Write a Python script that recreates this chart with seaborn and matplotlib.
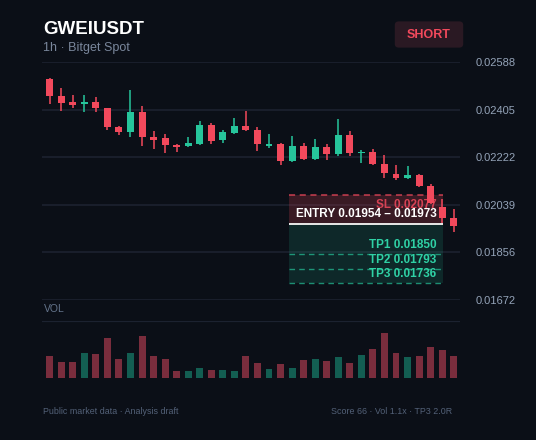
import numpy as np
import pandas as pd
import matplotlib
matplotlib.use("Agg")
import matplotlib.pyplot as plt
from matplotlib.patches import FancyBboxPatch
import seaborn as sns

# --- DATA ---
opens = [0.02522, 0.02456, 0.02433, 0.02425, 0.02434, 0.02412, 0.02337, 0.02318, 0.02394, 0.02298,
         0.02296, 0.02269, 0.02264, 0.02274, 0.02345, 0.02286, 0.02315, 0.02342, 0.02326, 0.02265,
         0.02272, 0.02207, 0.02265, 0.02215, 0.02260, 0.02233, 0.02308, 0.02237, 0.02241, 0.02196,
         0.02157, 0.02143, 0.02153, 0.02110, 0.02030, 0.01989]
highs = [0.02525, 0.02487, 0.02461, 0.02461, 0.02453, 0.02412, 0.02341, 0.02480, 0.02418, 0.02322,
         0.02310, 0.02274, 0.02299, 0.02360, 0.02352, 0.02328, 0.02372, 0.02399, 0.02338, 0.02312,
         0.02277, 0.02303, 0.02277, 0.02290, 0.02272, 0.02368, 0.02322, 0.02251, 0.02252, 0.02229,
         0.02190, 0.02187, 0.02156, 0.02117, 0.02062, 0.02024]
lows = [0.02425, 0.02400, 0.02412, 0.02396, 0.02396, 0.02325, 0.02308, 0.02300, 0.02265, 0.02254,
        0.02236, 0.02241, 0.02261, 0.02269, 0.02271, 0.02277, 0.02311, 0.02322, 0.02246, 0.02258,
        0.02192, 0.02202, 0.02210, 0.02211, 0.02211, 0.02227, 0.02227, 0.02200, 0.02190, 0.02143,
        0.02133, 0.02138, 0.02107, 0.02040, 0.01968, 0.01934]
closes = [0.02457, 0.02431, 0.02423, 0.02434, 0.02412, 0.02336, 0.02318, 0.02394, 0.02298, 0.02288,
          0.02269, 0.02261, 0.02276, 0.02345, 0.02284, 0.02318, 0.02342, 0.02325, 0.02271, 0.02272,
          0.02207, 0.02265, 0.02214, 0.02259, 0.02233, 0.02308, 0.02236, 0.02241, 0.02196, 0.02159,
          0.02143, 0.02153, 0.02110, 0.02047, 0.01987, 0.01958]
volumes = [65, 49, 47, 75, 73, 119, 56, 75, 125, 66, 56, 20, 21, 30, 23, 25, 22, 65, 46, 26,
           41, 31, 53, 58, 52, 62, 46, 68, 86, 134, 75, 62, 65, 94, 84, 66]

y_ticks = [0.01672, 0.01856, 0.02039, 0.02222, 0.02405, 0.02588]
sl_price = 0.02077
entry_lo, entry_hi = 0.01954, 0.01973
tp_prices = [0.01850, 0.01793, 0.01736]
tp_labels = ["TP1", "TP2", "TP3"]
zone_start, zone_end = 20.7, 34.1

# --- COLORS ---
bg = "#0b0f17"
grid_c = "#1c2230"
red = "#f2495c"
green = "#26c59b"
vol_red = "#7a2d3d"
vol_green = "#135e52"

sns.set_theme(style="dark", rc={"axes.facecolor": bg, "figure.facecolor": bg})
plt.rcParams["font.family"] = ["Liberation Sans", "DejaVu Sans"]

df = pd.DataFrame({"i": np.arange(len(opens)), "open": opens, "high": highs,
                   "low": lows, "close": closes, "vol": volumes})
df["dir"] = np.where(df["close"] >= df["open"], "up", "down")

W, H = 536, 440
fig = plt.figure(figsize=(W / 100, H / 100), dpi=100)

ax = fig.add_axes([42 / W, 1 - 300 / H, 418 / W, 238 / H])
axv = fig.add_axes([42 / W, 1 - 378 / H, 418 / W, 57 / H])

# --- PRICE PANEL ---
xlim = (-0.667, 35.546)
ax.set_xlim(*xlim)
ax.set_ylim(y_ticks[0], y_ticks[-1])
for t in y_ticks:
    ax.axhline(t, color=grid_c, lw=1.2, zorder=0)

mid = (entry_lo + entry_hi) / 2
ax.fill_between([zone_start, zone_end], mid, sl_price, color=red, alpha=0.2, lw=0, zorder=1)
ax.fill_between([zone_start, zone_end], tp_prices[-1], mid, color=green, alpha=0.14, lw=0, zorder=1)
ax.hlines(sl_price, zone_start, zone_end, color=red, lw=1.1, ls=(0, (4, 3)), alpha=0.8, zorder=2)
for p in tp_prices:
    ax.hlines(p, zone_start, zone_end, color=green, lw=1.0, ls=(0, (4, 3)), alpha=0.7, zorder=2)
ax.hlines(mid, zone_start, zone_end, color="#e8e8e8", lw=1.4, zorder=2)

cols = df["dir"].map({"up": green, "down": red})
ax.vlines(df["i"], df["low"], df["high"], colors=cols, lw=1.1, zorder=3)
body_lo = df[["open", "close"]].min(axis=1)
body_h = (df["open"] - df["close"]).abs()
ax.bar(df["i"], body_h, bottom=body_lo, width=0.6, color=cols, lw=0, zorder=4)

ax.annotate(f"SL {sl_price:.5f}", xy=(zone_end, sl_price), xytext=(-7, -10),
            textcoords="offset pixels", ha="right", va="center", color=red, alpha=0.85,
            fontsize=8.5, fontweight="bold", zorder=6)
ax.annotate(f"ENTRY {entry_lo:.5f} \u2013 {entry_hi:.5f}", xy=(zone_end, mid), xytext=(-7, 10),
            textcoords="offset pixels", ha="right", va="center", color="white",
            fontsize=8.5, fontweight="bold", zorder=6)
for lab, p in zip(tp_labels, tp_prices):
    ax.annotate(f"{lab} {p:.5f}", xy=(zone_end, p), xytext=(-7, 9),
                textcoords="offset pixels", ha="right", va="center", color="#2fd1a5",
                fontsize=8.5, fontweight="bold", zorder=6)

ax.yaxis.tick_right()
ax.set_yticks(y_ticks)
ax.set_yticklabels([f"{t:.5f}" for t in y_ticks], color="#94a3b8", fontsize=8)
ax.tick_params(axis="y", length=0, pad=11.5)
ax.set_xticks([])
ax.grid(False)
for s in ax.spines.values():
    s.set_visible(False)

# --- VOLUME PANEL ---
sns.barplot(data=df, x="i", y="vol", hue="dir", palette={"up": vol_green, "down": vol_red},
            width=0.6, dodge=False, saturation=1, errorbar=None, legend=False, ax=axv,
            linewidth=0, edgecolor="none", zorder=2)
axv.set_xlim(*xlim)
axv.set_ylim(0, 171)
axv.axhline(171, color=grid_c, lw=1.6, zorder=0)
axv.set_xticks([])
axv.set_yticks([])
axv.set_xlabel("")
axv.set_ylabel("")
axv.grid(False)
for s in axv.spines.values():
    s.set_visible(False)

# --- HEADER / FOOTER ---
fig.text(43 / W, 1 - 34 / H, "GWEIUSDT", color="white", fontsize=13.5, fontweight="bold", va="baseline")
fig.text(43 / W, 1 - 48 / H, "1h \u00b7 Bitget Spot", color="#7a879c", fontsize=9, va="center")
badge = FancyBboxPatch((398 / W, 1 - 45 / H), 62 / W, 21 / H,
                       boxstyle="round,pad=0.006,rounding_size=0.008",
                       transform=fig.transFigure, fc="#2a1923", ec="none")
fig.patches.append(badge)
fig.text(429 / W, 1 - 35 / H, "SHORT", color=red, fontsize=9, fontweight="bold", ha="center", va="center")
fig.text(44 / W, 1 - 309 / H, "VOL", color="#64748b", fontsize=7.5, va="center")
fig.text(43 / W, 1 - 411.5 / H, "Public market data \u00b7 Analysis draft", color="#536178",
         fontsize=6.4, va="center")
fig.text(452 / W, 1 - 411.5 / H, "Score 66 \u00b7 Vol 1.1x \u00b7 TP3 2.0R", color="#536178",
         fontsize=6.4, va="center", ha="right")

fig.savefig("out.png", dpi=100, facecolor=bg)
